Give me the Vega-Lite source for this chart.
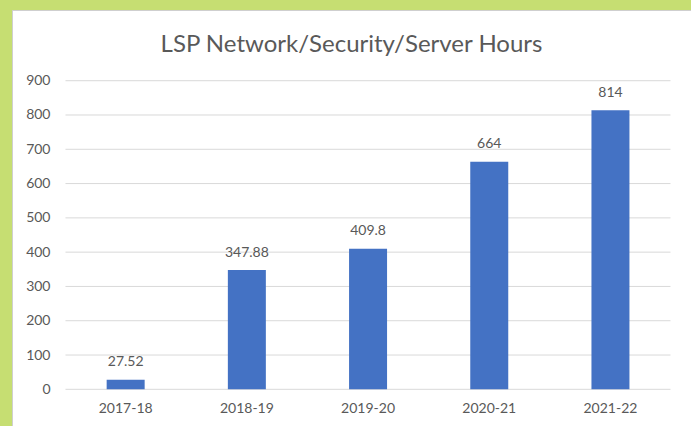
{
  "$schema": "https://vega.github.io/schema/vega-lite/v6.json",
  "width": 679,
  "height": 416,
  "autosize": {"type": "none"},
  "padding": {"left": 12, "top": 10, "right": 0, "bottom": 0},
  "background": "#c6de72",
  "title": {
    "text": "LSP Network/Security/Server Hours",
    "font": "Lato",
    "fontSize": 24,
    "fontWeight": "normal",
    "color": "#595959",
    "anchor": "middle",
    "frame": "group",
    "baseline": "alphabetic",
    "offset": -66
  },
  "config": {
    "view": {"fill": "white", "stroke": "#cfcfcf", "strokeWidth": 1},
    "axis": {"labelFont": "Lato", "labelFontSize": 14, "labelColor": "#595959"}
  },
  "resolve": {"scale": {"x": "independent"}},
  "layer": [
    {
      "data": {"values": [{"v": 0}, {"v": 100}, {"v": 200}, {"v": 300}, {"v": 400}, {"v": 500}, {"v": 600}, {"v": 700}, {"v": 800}, {"v": 900}]},
      "mark": {"type": "rule", "color": "#d9d9d9", "strokeWidth": 1},
      "encoding": {
        "x": {"datum": 0, "type": "quantitative", "scale": {"domain": [-0.0884, 1.0339], "nice": false, "zero": false}, "axis": null},
        "x2": {"datum": 1},
        "y": {
          "field": "v",
          "type": "quantitative",
          "scale": {"domain": [-107, 1106.2], "nice": false, "zero": false},
          "axis": {
            "values": [0, 100, 200, 300, 400, 500, 600, 700, 800, 900],
            "orient": "left",
            "offset": -53.5,
            "labelPadding": 15.5,
            "labelAlign": "right",
            "domain": false,
            "ticks": false,
            "grid": false,
            "title": null
          }
        }
      }
    },
    {
      "data": {"values": [
        {"year": "2017-18", "hours": 27.52},
        {"year": "2018-19", "hours": 347.88},
        {"year": "2019-20", "hours": 409.8},
        {"year": "2020-21", "hours": 664},
        {"year": "2021-22", "hours": 814}
      ]},
      "encoding": {
        "x": {
          "field": "year",
          "type": "nominal",
          "sort": null,
          "scale": {"paddingInner": 0.6865, "paddingOuter": 0.6444, "align": 0.606},
          "axis": {
            "orient": "bottom",
            "offset": -36.7,
            "labelPadding": 12,
            "labelAngle": 0,
            "domain": false,
            "ticks": false,
            "grid": false,
            "title": null
          }
        },
        "y": {
          "field": "hours",
          "type": "quantitative",
          "scale": {"domain": [-107, 1106.2], "nice": false, "zero": false},
          "axis": {
            "values": [0, 100, 200, 300, 400, 500, 600, 700, 800, 900],
            "orient": "left",
            "offset": -53.5,
            "labelPadding": 15.5,
            "labelAlign": "right",
            "domain": false,
            "ticks": false,
            "grid": false,
            "title": null
          }
        }
      },
      "layer": [
        {
          "mark": {"type": "bar", "color": "#4472c4"},
          "encoding": {"y2": {"datum": 0}}
        },
        {
          "mark": {"type": "text", "font": "Lato", "fontSize": 14, "color": "#595959", "baseline": "alphabetic", "dy": -13.5},
          "encoding": {"text": {"field": "hours", "type": "nominal"}}
        }
      ]
    }
  ]
}
